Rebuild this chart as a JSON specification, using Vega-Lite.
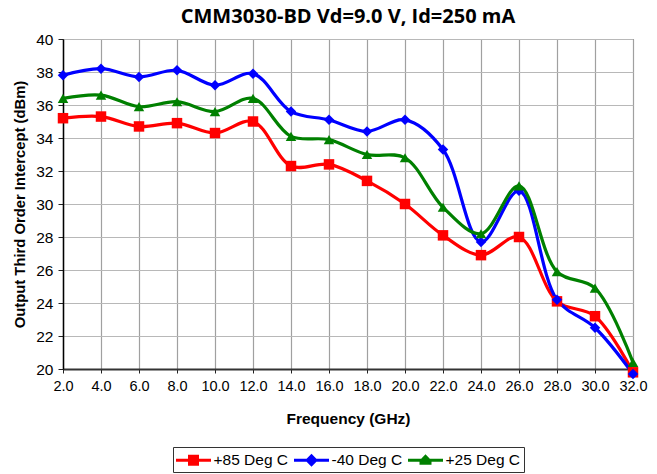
{
  "$schema": "https://vega.github.io/schema/vega-lite/v6.json",
  "width": 570,
  "height": 330,
  "autosize": {"type": "none"},
  "padding": {"left": 63, "top": 39, "right": 24, "bottom": 105},
  "background": "white",
  "title": {"text": "CMM3030-BD Vd=9.0 V, Id=250 mA", "font": "Open Sans", "fontSize": 20, "fontWeight": "bold", "color": "#000", "offset": 5},
  "config": {
    "font": "Liberation Sans",
    "view": {"stroke": "#333", "strokeWidth": 1},
    "legend": {"orient": "none", "legendX": 110, "legendY": 408, "direction": "horizontal", "title": null,
        "strokeColor": "#333", "padding": 3, "labelFont": "Liberation Sans", "labelFontSize": 15.5, "labelColor": "#000",
        "columnPadding": 5, "symbolStrokeWidth": 0, "symbolSize": 400, "symbolOffset": 7.5, "labelOffset": 10}
  },
  "data": {"values": [
    {"freq": 2, "series": "+85 Deg C", "value": 35.2},
    {"freq": 4, "series": "+85 Deg C", "value": 35.3},
    {"freq": 6, "series": "+85 Deg C", "value": 34.7},
    {"freq": 8, "series": "+85 Deg C", "value": 34.9},
    {"freq": 10, "series": "+85 Deg C", "value": 34.3},
    {"freq": 12, "series": "+85 Deg C", "value": 35.0},
    {"freq": 14, "series": "+85 Deg C", "value": 32.3},
    {"freq": 16, "series": "+85 Deg C", "value": 32.4},
    {"freq": 18, "series": "+85 Deg C", "value": 31.4},
    {"freq": 20, "series": "+85 Deg C", "value": 30.0},
    {"freq": 22, "series": "+85 Deg C", "value": 28.1},
    {"freq": 24, "series": "+85 Deg C", "value": 26.9},
    {"freq": 26, "series": "+85 Deg C", "value": 28.0},
    {"freq": 28, "series": "+85 Deg C", "value": 24.1},
    {"freq": 30, "series": "+85 Deg C", "value": 23.2},
    {"freq": 32, "series": "+85 Deg C", "value": 19.8},
    {"freq": 2, "series": "-40 Deg C", "value": 37.8},
    {"freq": 4, "series": "-40 Deg C", "value": 38.2},
    {"freq": 6, "series": "-40 Deg C", "value": 37.7},
    {"freq": 8, "series": "-40 Deg C", "value": 38.1},
    {"freq": 10, "series": "-40 Deg C", "value": 37.2},
    {"freq": 12, "series": "-40 Deg C", "value": 37.9},
    {"freq": 14, "series": "-40 Deg C", "value": 35.6},
    {"freq": 16, "series": "-40 Deg C", "value": 35.1},
    {"freq": 18, "series": "-40 Deg C", "value": 34.4},
    {"freq": 20, "series": "-40 Deg C", "value": 35.1},
    {"freq": 22, "series": "-40 Deg C", "value": 33.3},
    {"freq": 24, "series": "-40 Deg C", "value": 27.7},
    {"freq": 26, "series": "-40 Deg C", "value": 30.8},
    {"freq": 28, "series": "-40 Deg C", "value": 24.2},
    {"freq": 30, "series": "-40 Deg C", "value": 22.5},
    {"freq": 32, "series": "-40 Deg C", "value": 19.7},
    {"freq": 2, "series": "+25 Deg C", "value": 36.4},
    {"freq": 4, "series": "+25 Deg C", "value": 36.6},
    {"freq": 6, "series": "+25 Deg C", "value": 35.9},
    {"freq": 8, "series": "+25 Deg C", "value": 36.2},
    {"freq": 10, "series": "+25 Deg C", "value": 35.6},
    {"freq": 12, "series": "+25 Deg C", "value": 36.4},
    {"freq": 14, "series": "+25 Deg C", "value": 34.1},
    {"freq": 16, "series": "+25 Deg C", "value": 33.9},
    {"freq": 18, "series": "+25 Deg C", "value": 33.0},
    {"freq": 20, "series": "+25 Deg C", "value": 32.8},
    {"freq": 22, "series": "+25 Deg C", "value": 29.8},
    {"freq": 24, "series": "+25 Deg C", "value": 28.2},
    {"freq": 26, "series": "+25 Deg C", "value": 31.1},
    {"freq": 28, "series": "+25 Deg C", "value": 25.9},
    {"freq": 30, "series": "+25 Deg C", "value": 24.9},
    {"freq": 32, "series": "+25 Deg C", "value": 20.4}
  ]},
  "encoding": {
    "x": {"field": "freq", "type": "quantitative",
      "scale": {"domain": [2, 32], "nice": false, "zero": false},
      "axis": {"values": [2,4,6,8,10,12,14,16,18,20,22,24,26,28,30,32], "format": ".1f", "title": "Frequency (GHz)",
        "labelFlush": false, "labelOverlap": false,
        "titleFont": "Liberation Sans", "titleFontSize": 15.5, "titleFontWeight": "bold", "titleColor": "#000", "titlePadding": 19,
        "labelFont": "Liberation Sans", "labelFontSize": 14.5, "labelColor": "#000", "labelPadding": 6,
        "grid": true, "gridColor": "#a0a0a0", "gridWidth": 1.2,
        "domainColor": "#333", "domainWidth": 2, "tickColor": "#222", "tickSize": 4}},
    "y": {"field": "value", "type": "quantitative",
      "scale": {"domain": [20, 40], "nice": false, "zero": false},
      "axis": {"values": [20,22,24,26,28,30,32,34,36,38,40], "title": "Output Third Order Intercept (dBm)",
        "labelFlush": false, "labelOverlap": false,
        "titleFont": "Liberation Sans", "titleFontSize": 14.8, "titleFontWeight": "bold", "titleColor": "#000", "titlePadding": 8,
        "labelFont": "Liberation Sans", "labelFontSize": 15.5, "labelColor": "#000", "labelPadding": 5,
        "grid": true, "gridColor": "#b8b8b8", "gridWidth": 1.2,
        "domainColor": "#000", "domainWidth": 1.5, "tickColor": "#222", "tickSize": 5}}
  },
  "layer": [
    {"mark": {"type": "line", "interpolate": "catmull-rom", "strokeWidth": 3.2},
      "encoding": {"color": {"field": "series", "type": "nominal",
        "scale": {"domain": ["+85 Deg C", "-40 Deg C", "+25 Deg C"], "range": ["#ff0000", "#0000ff", "#008000"]}, "legend": null}}},
    {"mark": {"type": "point", "filled": true, "size": 110, "opacity": 1},
      "encoding": {
        "color": {"field": "series", "type": "nominal",
          "scale": {"domain": ["+85 Deg C", "-40 Deg C", "+25 Deg C"], "range": ["#ff0000", "#0000ff", "#008000"]}, "legend": null},
        "shape": {"field": "series", "type": "nominal",
          "scale": {"domain": ["+85 Deg C", "-40 Deg C", "+25 Deg C"], "range": ["square", "diamond", "triangle-up"]}, "legend": null}}},
    {"transform": [{"filter": "datum.freq > 100"}],
      "mark": {"type": "point", "filled": true, "opacity": 1},
      "encoding": {
        "color": {"field": "series", "type": "nominal",
          "scale": {"domain": ["+85 Deg C", "-40 Deg C", "+25 Deg C"], "range": ["#ff0000", "#0000ff", "#008000"]}},
        "shape": {"field": "series", "type": "nominal",
          "scale": {"domain": ["+85 Deg C", "-40 Deg C", "+25 Deg C"], "range": [
            "M-1.75,-0.16H-0.55V-0.55H0.55V-0.16H1.75V0.16H0.55V0.55H-0.55V0.16H-1.75Z",
            "M-1.75,-0.16H-0.49L0,-0.65L0.49,-0.16H1.75V0.16H0.49L0,0.65L-0.49,0.16H-1.75Z",
            "M-1.75,-0.16H-0.43L0,-0.6L0.43,-0.16H1.75V0.16H0.6L0.6,0.45H-0.6L-0.6,0.16H-1.75Z"]}}}}
  ],
  "resolve": {"scale": {"shape": "independent", "color": "independent"}}
}
